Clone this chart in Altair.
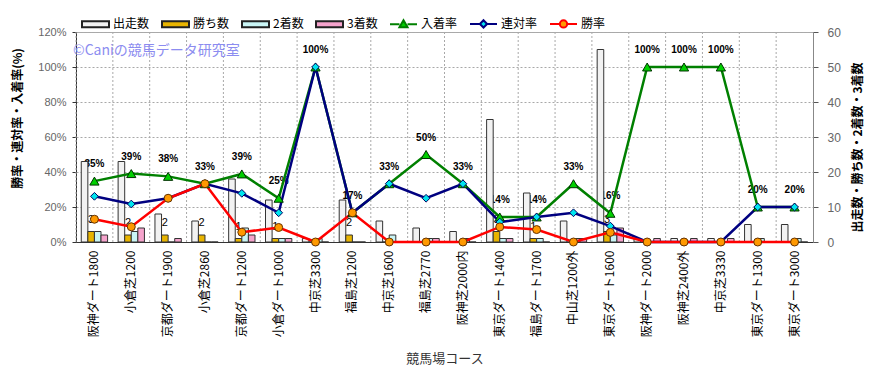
import altair as alt
import pandas as pd

# ---- data ----
cats = ["阪神ダート1800", "小倉芝1200", "京都ダート1900", "小倉芝2860", "京都ダート1200",
        "小倉ダート1000", "中京芝3300", "福島芝1200", "中京芝1600", "福島芝2770",
        "阪神芝2000内", "東京ダート1400", "福島ダート1700", "中山芝1200外", "東京ダート1600",
        "阪神ダート2000", "阪神芝2400外", "中京芝3330", "東京ダート1300", "東京ダート3000"]
starts = [23, 23, 8, 6, 18, 12, 1, 12, 6, 4, 3, 35, 14, 6, 55, 1, 1, 1, 5, 5]
wins = [3, 2, 2, 2, 1, 1, 0, 2, 0, 0, 0, 3, 1, 0, 3, 0, 0, 0, 0, 0]
seconds = [3, 3, 0, 0, 4, 1, 1, 0, 2, 1, 1, 1, 1, 1, 2, 0, 0, 0, 1, 1]
thirds = [2, 4, 1, 0, 2, 1, 0, 0, 0, 1, 0, 1, 0, 1, 4, 1, 1, 1, 0, 0]
place_rate = [34.8, 39.1, 37.5, 33.3, 38.9, 25.0, 100, 16.7, 33.3, 50.0,
              33.3, 14.3, 14.3, 33.3, 16.4, 100, 100, 100, 20.0, 20.0]
quinella_rate = [26.1, 21.7, 25.0, 33.3, 27.8, 16.7, 100, 16.7, 33.3, 25.0,
                 33.3, 11.4, 14.3, 16.7, 9.1, 0, 0, 0, 20.0, 20.0]
win_rate = [13.0, 8.7, 25.0, 33.3, 5.6, 8.3, 0, 16.7, 0, 0,
            0, 8.6, 7.1, 0, 5.5, 0, 0, 0, 0, 0]
place_labels = ["35%", "39%", "38%", "33%", "39%", "25%", "100%", "17%", "33%", "50%",
                "33%", "14%", "14%", "33%", "16%", "100%", "100%", "100%", "20%", "20%"]

bar_series = ["出走数", "勝ち数", "2着数", "3着数"]
bar_colors = ["#F2F2F2", "#E8B400", "#C9F5F5", "#F5A3CC"]
rate_series = ["入着率", "連対率", "勝率"]
line_colors = ["#008000", "#000080", "#FF0000"]
marker_fills = ["#00D000", "#00E5EE", "#FF9900"]
marker_strokes = ["#003300", "#000060", "#663300"]
marker_shapes = ["triangle-up", "diamond", "circle"]
marker_sizes = [85, 60, 64]

df = pd.DataFrame({
    "cat": cats, "出走数": starts, "勝ち数": wins, "2着数": seconds, "3着数": thirds,
    "入着率": place_rate, "連対率": quinella_rate, "勝率": win_rate, "label": place_labels,
})

JP = "Noto Sans CJK JP"
LAT = "Liberation Sans"

xscale = alt.Scale(domain=cats, paddingInner=0, paddingOuter=0)
xaxis = alt.Axis(title="競馬場コース", labelAngle=270, labelFont=JP, labelFontSize=12,
                 labelColor="#000000", labelPadding=8, ticks=False, domain=True,
                 domainColor="#333333", grid=False, titleFont=JP, titleFontSize=13,
                 titleColor="#333333", titleFontWeight="normal", titleY=116,
                 titleBaseline="middle")


def X(**kw):
    return alt.X("cat:N", scale=xscale, axis=xaxis, **kw)


rate_scale = alt.Scale(domain=[0, 120], nice=False)
cnt_scale = alt.Scale(domain=[0, 60], nice=False)
xoff_scale = alt.Scale(domain=bar_series, paddingOuter=0.8, paddingInner=0)

left_axis = alt.Axis(orient="left", values=[0, 20, 40, 60, 80, 100, 120],
                     labelExpr="datum.value + '%'", grid=True, gridDash=[2, 2],
                     gridColor="#A8A8A8", tickSize=4, tickColor="#333333",
                     domainColor="#333333", labelFont=LAT, labelFontSize=11,
                     labelColor="#666666", labelPadding=6,
                     title="勝率・連対率・入着率(%)", titleFont=JP, titleFontSize=12,
                     titleFontWeight="bold", titleColor="#000000", titleAngle=270,
                     titleX=-59, titleY=86, titleAlign="center", titleBaseline="middle")
right_axis = alt.Axis(orient="right", values=[0, 10, 20, 30, 40, 50, 60], grid=False,
                      tickSize=5, tickColor="#555555", domainColor="#888888",
                      labelFont=LAT, labelFontSize=12, labelColor="#666666",
                      labelPadding=9, title="出走数・勝ち数・2着数・3着数",
                      titleFont=JP, titleFontSize=12, titleFontWeight="bold",
                      titleColor="#000000", titleAngle=270, titleX=44, titleY=115,
                      titleAlign="center", titleBaseline="middle")

base = alt.Chart(df)

grid_v = base.mark_rule(strokeDash=[2, 2], color="#A8A8A8", strokeWidth=1).encode(
    x=X(bandPosition=0))

pct_text = base.mark_text(dy=-17, font=LAT, fontWeight="bold", fontSize=10,
                          color="#000000", baseline="middle").encode(
    x=X(), y=alt.Y("入着率:Q", scale=rate_scale, axis=left_axis), text="label:N")

bars = base.transform_fold(bar_series, as_=["series", "num"]).mark_bar(
    stroke="#333333", strokeWidth=1, opacity=1).encode(
    x=X(),
    xOffset=alt.XOffset("series:N", scale=xoff_scale),
    y=alt.Y("num:Q", scale=cnt_scale, axis=right_axis, stack=None),
    fill=alt.Fill("series:N", scale=alt.Scale(domain=bar_series, range=bar_colors),
                  legend=None),
)

win_text = base.transform_filter("datum['勝ち数'] > 0").transform_calculate(
    series="'勝ち数'").mark_text(dy=-12, font=LAT, fontSize=11, color="#000000",
                                baseline="middle").encode(
    x=X(),
    xOffset=alt.XOffset("series:N", scale=xoff_scale),
    y=alt.Y("勝ち数:Q", scale=cnt_scale, axis=None),
    text="勝ち数:Q",
)

lines = []
points = []
for s, lc, mf, ms, sh, sz in zip(rate_series, line_colors, marker_fills,
                                 marker_strokes, marker_shapes, marker_sizes):
    lines.append(base.mark_line(color=lc, strokeWidth=2.5).encode(
        x=X(), y=alt.Y(f"{s}:Q", scale=rate_scale, axis=None)))
    points.append(base.mark_point(shape=sh, filled=True, fill=mf, stroke=ms,
                                  strokeWidth=1, size=sz, opacity=1).encode(
        x=X(), y=alt.Y(f"{s}:Q", scale=rate_scale, axis=None)))

# legend (one row, seven entries)
all_series = bar_series + rate_series
rect = "M-1,-0.22H1V0.22H-1Z"
leg_shapes = [rect, rect, rect, rect,
              "M-1,0H-0.3M0.3,0H1M0,-0.3L0.3,0.22L-0.3,0.22Z",
              "M-1,0H-0.27M0.27,0H1M0,-0.27L0.27,0L0,0.27L-0.27,0Z",
              "M-1,0H-0.27M0.27,0H1M0.27,0A0.27,0.27,0,1,1,-0.27,0A0.27,0.27,0,1,1,0.27,0Z"]
leg_fills = bar_colors + marker_fills
leg_strokes = ["#222222"] * 4 + line_colors
leg = alt.Legend(orient="none", legendX=5, legendY=-23, direction="horizontal",
                 title=None, labelFont=JP, labelFontSize=12, labelColor="#000000",
                 symbolSize=729, symbolStrokeWidth=2, columnPadding=8, labelOffset=3,
                 symbolOpacity=1)
leg_df = pd.DataFrame({"series": all_series})
legend_layer = alt.Chart(leg_df).transform_filter("false").mark_point(
    filled=True, opacity=1).encode(
    fill=alt.Fill("series:N", scale=alt.Scale(domain=all_series, range=leg_fills), legend=leg),
    stroke=alt.Stroke("series:N", scale=alt.Scale(domain=all_series, range=leg_strokes), legend=leg),
    shape=alt.Shape("series:N", scale=alt.Scale(domain=all_series, range=leg_shapes), legend=leg),
)

chart = alt.layer(
    grid_v, pct_text, bars, win_text, *lines, *points, legend_layer
).resolve_scale(
    y="independent", fill="independent", stroke="independent", shape="independent"
).properties(
    width=737, height=210,
    autosize=alt.AutoSizeParams(type="none"),
    padding={"left": 68, "top": 24, "right": 60, "bottom": 128},
    background="#FFFFFF",
    title=alt.TitleParams("©Caniの競馬データ研究室", anchor="start", orient="top",
                          frame="group", offset=-24, dy=25, fontSize=14,
                          color="#8C8CF0", font=JP, fontWeight="normal", dx=-3),
).configure_view(fill="#FBF1DE", stroke="#AAAAAA")

chart.save("out.html", embed_options={"renderer": "svg", "actions": False})
